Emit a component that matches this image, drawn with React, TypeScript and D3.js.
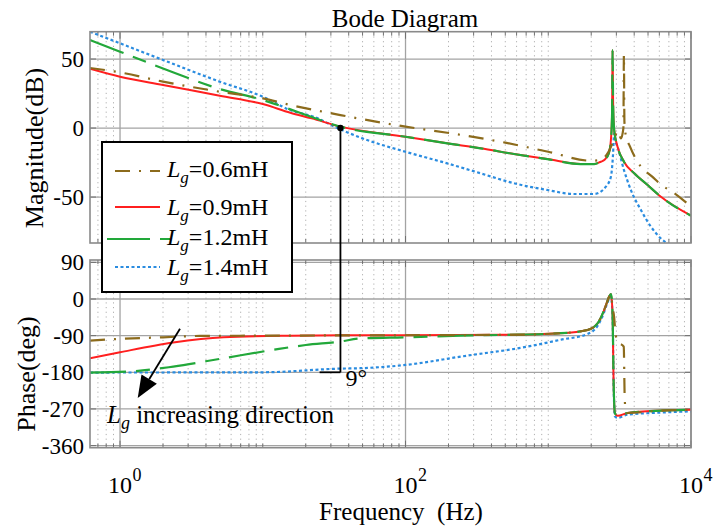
import React from 'react';
import * as d3 from 'd3';

const FONT = "'Liberation Serif', 'Times New Roman', serif";

// ---- magnitude (dB) ----
const magFreq06 = [0.616, 1, 2, 5, 10, 15.6, 35, 100, 196, 500, 1000, 2000, 2340, 2650, 2900, 3076, 3231, 3360, 3388, 3415, 3490, 3740, 4460, 5324, 6155, 7600, 10000];
const mag06 = [43.5, 40.3, 33.6, 26.3, 21.5, 16.7, 9.4, 1, -3.4, -10.6, -17.2, -23.7, -23, -17, -8, -2, -7.5, 0, 53, 5, -5, -13.5, -28, -35, -41, -47, -57];

const magFreq09 = [0.616, 1, 2, 5, 10, 15.6, 22, 35, 100, 196, 336, 575, 986, 1685, 2100, 2335, 2470, 2654, 2747, 2800, 2821, 2850, 2895, 3057, 3390, 4000, 4965, 6155, 10000];
const mag09 = [43, 37.2, 31.2, 23.4, 17.4, 11.1, 7, 1, -6.3, -11.1, -14.7, -18.8, -22.5, -26.1, -26.1, -24.4, -23.2, -18.4, -8.7, 10.6, 56.5, 15, -1.4, -13.5, -24.4, -32.8, -41.3, -49.8, -63.5];

const magFreq12 = magFreq09;
const mag12 = [63.8, 55.3, 43.2, 28.3, 20.3, 13.5, 8, 1, -6.3, -11.1, -14.7, -18.8, -22.5, -26.1, -26.1, -24.4, -23.2, -18.4, -8.7, 10.6, 56.5, 15, -1.4, -13.5, -24.4, -32.8, -41.3, -49.8, -63.5];

const magFreq14 = [0.616, 1, 2, 5, 10, 15.6, 22.7, 35, 53.8, 100, 196, 336, 575, 986, 1517, 2100, 2533, 2747, 2840, 2897, 2950, 3057, 3390, 3793, 4457, 5240, 6155, 8510];
const mag14 = [69.8, 61.4, 49.3, 33.6, 22.7, 13, 8.2, -1, -8.7, -17.2, -25.6, -32.8, -40, -44.9, -47.8, -47.8, -42.5, -35.3, -20, -3.9, -9, -13.5, -30.4, -45, -59.4, -71.5, -80, -88];

// ---- phase (deg) ----
const phFreq06 = [0.616, 1, 2, 3.63, 10, 100, 500, 1224, 1884, 2214, 2464, 2567, 2747, 2821, 2895, 2950, 3059, 3380, 3430, 3490, 3595, 6155, 10000];
const ph06 = [-102, -98, -94, -90.7, -90, -89, -88, -84, -76, -60, -27, -10, 12, -20, -45, -80, -105, -117, -240, -275, -280, -274, -272];

const phFreq09 = [0.616, 1, 2.36, 5.3, 15.5, 35, 100, 500, 1224, 1884, 2214, 2464, 2567, 2747, 2821, 2868, 2929, 3059, 3595, 6155, 10000];
const ph09 = [-145.5, -130.8, -107, -94, -90, -89, -89, -88, -84, -76, -60, -27, -10, 12, -35, -199, -280, -287, -280, -274, -272];

const phFreq12 = [0.616, 1.175, 2.36, 5.3, 11.8, 20, 34.8, 48, 100, 243, 500, 1224, 1884, 2214, 2464, 2567, 2747, 2821, 2868, 2929, 3059, 3595, 6155, 10000];
const ph12 = [-180.6, -178, -166, -145.5, -125, -113, -104.6, -97, -94, -90, -88, -84, -76, -60, -27, -10, 12, -35, -199, -280, -287, -280, -274, -272];

const phFreq14 = [0.616, 10, 34.8, 48, 100, 243, 714, 1224, 1884, 2214, 2464, 2567, 2747, 2821, 2868, 2929, 3059, 3595, 6155, 10000];
const ph14 = [-180.6, -180, -171, -170, -162, -141.5, -117, -100, -86, -66, -32, -14, 6, -40, -205, -288, -292, -284, -279, -276];

const legendLabels = ['0.6mH', '0.9mH', '1.2mH', '1.4mH'];
const magTicks = [50, 0, -50];
const phaseTicks = [90, 0, -90, -180, -270, -360];
const freqMajor = [1, 100, 10000];
const freqMajorExp = ['0', '2', '4'];

// annotation (data units)
const pmFreq = 35;       // crossover frequency marker
const pmStartFreq = 25;
const arrowFrom = [2.63, -73];
const arrowTo = [1.33, -243];

const series = [
  { color: '#8c6b1c', dash: '15,9,2,9', width: 2.2, mf: magFreq06, m: mag06, pf: phFreq06, p: ph06 },
  { color: '#ff1f1f', dash: null, width: 2, mf: magFreq09, m: mag09, pf: phFreq09, p: ph09 },
  { color: '#22a83a', dash: '36,10,14,10', width: 2.2, mf: magFreq12, m: mag12, pf: phFreq12, p: ph12 },
  { color: '#2a8ce0', dash: '3,2.5', width: 2.2, mf: magFreq14, m: mag14, pf: phFreq14, p: ph14 },
];
const drawOrder = [3, 1, 2, 0];

const left = 90, right = 691;
const magTop = 31.7, magBottom = 243;
const phTop = 260, phBottom = 447.7;

const x = d3.scaleLog().domain([0.616, 10000]).range([left, right]);
const yMag = d3.scaleLinear().domain([-83.3, 69.8]).range([magBottom, magTop]);
const yPh = d3.scaleLinear().domain([-365.2, 95.8]).range([phBottom, phTop]);

const minorTicks = x.ticks().filter(t => t >= 0.616 && t <= 10000);

function zip(f: number[], v: number[]) {
  return f.map((d, i) => [d, v[i]] as [number, number]);
}

function Axes({ top, bottom, y, ticks, clip }: any) {
  return (
    <g>
      {minorTicks.filter(t => !freqMajor.includes(t)).map((t, i) => (
        <line key={'m' + i} x1={x(t)} x2={x(t)} y1={top} y2={bottom} stroke="#b0b0b0" strokeWidth={1} strokeDasharray="1.2,3.5" />
      ))}
      {freqMajor.map((t, i) => (
        <line key={'M' + i} x1={x(t)} x2={x(t)} y1={top} y2={bottom} stroke="#a3a3a3" strokeWidth={1.3} />
      ))}
      {ticks.map((t: number, i: number) => (
        <line key={'h' + i} x1={left} x2={right} y1={y(t)} y2={y(t)} stroke="#a3a3a3" strokeWidth={1.3} />
      ))}
      {minorTicks.map((t, i) => {
        const len = freqMajor.includes(t) ? 7 : 4;
        return (
          <g key={'t' + i} stroke="#707070" strokeWidth={1}>
            <line x1={x(t)} x2={x(t)} y1={top} y2={top + len} />
            <line x1={x(t)} x2={x(t)} y1={bottom} y2={bottom - len} />
          </g>
        );
      })}
      {ticks.map((t: number, i: number) => (
        <g key={'yt' + i} stroke="#707070" strokeWidth={1}>
          <line x1={left} x2={left + 6} y1={y(t)} y2={y(t)} />
          <line x1={right} x2={right - 6} y1={y(t)} y2={y(t)} />
        </g>
      ))}
      <clipPath id={clip}>
        <rect x={left} y={top} width={right - left} height={bottom - top} />
      </clipPath>
    </g>
  );
}

export default function App() {
  const magLine = d3.line<[number, number]>().x(d => x(d[0])).y(d => yMag(d[1])).curve(d3.curveMonotoneX);
  const phLine = d3.line<[number, number]>().x(d => x(d[0])).y(d => yPh(d[1])).curve(d3.curveMonotoneX);

  // arrow geometry
  const ax1 = x(arrowFrom[0]), ay1 = yPh(arrowFrom[1]);
  const ax2 = x(arrowTo[0]), ay2 = yPh(arrowTo[1]);
  const ang = Math.atan2(ay2 - ay1, ax2 - ax1);
  const headLen = 22, headW = 9;
  const bx = ax2 - headLen * Math.cos(ang), by = ay2 - headLen * Math.sin(ang);
  const head = [
    [ax2, ay2],
    [bx + headW * Math.sin(ang), by - headW * Math.cos(ang)],
    [bx - headW * Math.sin(ang), by + headW * Math.cos(ang)],
  ];

  const legendY = [171, 207, 239, 267];
  const legendTextY = [177, 215, 245, 275];

  return (
    <svg width={719} height={526} style={{ position: 'absolute', left: 0, top: 0, background: '#fff' }} fontFamily={FONT}>
      <rect width={719} height={526} fill="#fff" />

      <Axes top={magTop} bottom={magBottom} y={yMag} ticks={magTicks} clip="clipMag" />
      <Axes top={phTop} bottom={phBottom} y={yPh} ticks={phaseTicks} clip="clipPh" />

      <g clipPath="url(#clipMag)" fill="none">
        {drawOrder.map(i => {
          const s = series[i];
          return <path key={i} d={magLine(zip(s.mf, s.m)) || ''} stroke={s.color} strokeWidth={s.width} strokeDasharray={s.dash || undefined} />;
        })}
      </g>
      <g clipPath="url(#clipPh)" fill="none">
        {drawOrder.map(i => {
          const s = series[i];
          return <path key={i} d={phLine(zip(s.pf, s.p)) || ''} stroke={s.color} strokeWidth={s.width} strokeDasharray={s.dash || undefined} />;
        })}
      </g>

      {/* axes borders */}
      <rect x={left} y={magTop} width={right - left} height={magBottom - magTop} fill="none" stroke="#8a8a8a" strokeWidth={1.6} />
      <rect x={left} y={phTop} width={right - left} height={phBottom - phTop} fill="none" stroke="#8a8a8a" strokeWidth={1.6} />

      {/* y tick labels */}
      {magTicks.map((t, i) => (
        <text key={'ml' + i} x={84} y={yMag(t)} dy="0.35em" textAnchor="end" fontSize={23}>{t}</text>
      ))}
      {phaseTicks.map((t, i) => (
        <text key={'pl' + i} x={84} y={yPh(t)} dy="0.35em" textAnchor="end" fontSize={23}>{t}</text>
      ))}

      {/* x tick labels */}
      {freqMajor.map((t, i) => (
        <g key={'xl' + i}>
          <text x={x(t)} y={493} textAnchor="middle" fontSize={24}>10</text>
          <text x={x(t) + 12.5} y={481} fontSize={18}>{freqMajorExp[i]}</text>
        </g>
      ))}

      <text x={401} y={520} textAnchor="middle" fontSize={25}>{'Frequency\u00a0 (Hz)'}</text>
      <text x={405} y={27} textAnchor="middle" fontSize={25}>Bode Diagram</text>
      <text transform="translate(43,148) rotate(-90)" textAnchor="middle" fontSize={26}>Magnitude(dB)</text>
      <text transform="translate(35,374) rotate(-90)" textAnchor="middle" fontSize={26}>Phase(deg)</text>

      {/* phase margin annotation */}
      <line x1={x(pmFreq)} x2={x(pmFreq)} y1={yMag(0)} y2={yPh(-180)} stroke="#000" strokeWidth={1.8} />
      <line x1={x(pmStartFreq)} x2={x(pmFreq)} y1={yPh(-180)} y2={yPh(-180)} stroke="#000" strokeWidth={1.8} />
      <circle cx={x(pmFreq)} cy={yMag(0)} r={3.2} fill="#000" />
      <text x={x(pmFreq) + 5} y={386} fontSize={24}>9°</text>

      {/* Lg increasing arrow */}
      <line x1={ax1} y1={ay1} x2={bx} y2={by} stroke="#000" strokeWidth={1.8} />
      <polygon points={head.map(p => p.join(',')).join(' ')} fill="#000" />
      <text x={107} y={423} fontSize={25}>
        <tspan fontStyle="italic">L</tspan>
        <tspan fontStyle="italic" fontSize={18} dy={6}>g</tspan>
        <tspan dy={-6}> increasing direction</tspan>
      </text>

      {/* legend */}
      <rect x={102} y={142} width={190} height={150} fill="#fff" stroke="#000" strokeWidth={2} />
      {series.map((s, i) => (
        <g key={'lg' + i}>
          <line x1={i === 2 ? 107 : 115} x2={i === 2 ? 170 : 160} y1={legendY[i]} y2={legendY[i]} stroke={s.color} strokeWidth={s.width} strokeDasharray={i === 2 ? '43,10,12,10' : s.dash || undefined} />
          <text x={167} y={legendTextY[i]} fontSize={24}>
            <tspan fontStyle="italic">L</tspan>
            <tspan fontStyle="italic" fontSize={17} dy={6}>g</tspan>
            <tspan dy={-6}>={legendLabels[i]}</tspan>
          </text>
        </g>
      ))}
    </svg>
  );
}
